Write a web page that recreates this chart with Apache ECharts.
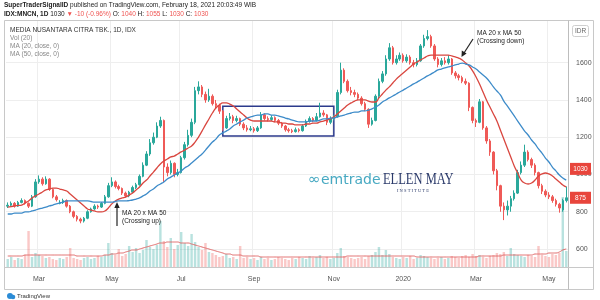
<!DOCTYPE html>
<html><head><meta charset="utf-8">
<script src="https://cdn.jsdelivr.net/npm/echarts@6/dist/echarts.min.js"></script>
<style>html,body{margin:0;padding:0;background:#fff}#c{width:600px;height:300px}</style>
</head><body><div id="c"></div>
<script>
// ---- data (each slot ~ 2 trading days, Feb 2019 - May 2020) ----
const openP = [830,835,845,830,850,860,845,830,880,960,
975,950,975,920,880,845,850,860,830,800,
775,760,750,765,800,815,830,825,845,880,
940,960,935,925,900,885,905,930,945,990,
1050,1110,1170,1200,1260,1290,1040,1010,1060,1000,
1010,1090,1160,1210,1280,1450,1470,1430,1400,1420,
1380,1370,1340,1250,1300,1310,1290,1300,1270,1250,
1240,1245,1235,1250,1320,1300,1295,1305,1290,1275,
1260,1240,1235,1230,1240,1235,1260,1285,1300,1290,
1310,1330,1320,1280,1300,1310,1440,1560,1500,1450,
1440,1430,1410,1380,1350,1270,1290,1420,1500,1540,
1620,1680,1600,1620,1640,1610,1630,1600,1590,1610,
1690,1730,1740,1690,1620,1590,1610,1600,1620,1545,
1530,1520,1500,1490,1360,1290,1280,1390,1250,1180,
1120,1020,940,830,810,830,870,900,1010,1050,
1120,1080,1050,1010,940,910,890,880,860,840,
810,860];
const closeP = [835,845,830,850,860,845,830,880,960,975,
950,975,920,880,865,850,860,830,800,775,
760,750,765,800,815,830,825,845,880,940,
960,935,925,900,885,905,930,945,990,1050,
1110,1170,1200,1260,1290,1040,1010,1060,1000,1010,
1090,1160,1210,1280,1450,1470,1430,1400,1420,1380,
1370,1340,1250,1300,1310,1290,1300,1270,1250,1240,
1245,1235,1250,1320,1300,1295,1305,1290,1275,1260,
1240,1235,1230,1240,1235,1260,1285,1300,1290,1310,
1330,1320,1280,1300,1310,1440,1560,1500,1450,1440,
1430,1410,1380,1350,1270,1290,1420,1500,1540,1620,
1680,1600,1620,1640,1610,1630,1600,1590,1610,1690,
1730,1740,1690,1620,1590,1610,1600,1620,1545,1530,
1520,1500,1490,1360,1290,1280,1390,1250,1180,1120,
1020,940,830,810,830,870,900,1010,1050,1120,
1080,1050,1010,940,910,890,880,860,840,820,
860,875];
const highP = [850,855,852,858,872,866,850,890,975,995,
985,990,980,925,890,862,870,866,836,806,
782,768,772,808,822,840,838,852,890,955,
985,968,945,930,908,912,940,955,1000,1065,
1125,1190,1225,1280,1310,1295,1060,1075,1065,1030,
1100,1175,1240,1300,1470,1500,1480,1445,1460,1430,
1400,1380,1345,1315,1330,1320,1315,1305,1280,1265,
1260,1255,1260,1335,1328,1312,1318,1312,1298,1282,
1266,1250,1245,1252,1248,1270,1295,1312,1308,1330,
1385,1345,1325,1312,1320,1455,1600,1570,1510,1470,
1455,1440,1420,1390,1355,1305,1430,1515,1555,1640,
1705,1690,1640,1655,1650,1645,1640,1615,1625,1700,
1750,1775,1750,1700,1630,1625,1630,1640,1625,1555,
1540,1530,1515,1495,1365,1300,1405,1395,1260,1190,
1125,1030,945,850,860,885,915,1025,1070,1160,
1130,1090,1060,1015,950,920,905,890,870,848,
870,935];
const lowP = [820,828,822,826,845,838,820,825,875,950,
940,945,912,872,855,840,842,822,792,765,
748,738,742,760,795,810,815,820,840,875,
932,925,915,890,875,878,900,922,940,985,
1045,1100,1160,1195,1250,960,990,1000,985,990,
1005,1080,1150,1200,1270,1430,1415,1385,1390,1370,
1355,1325,1235,1245,1290,1275,1280,1260,1238,1230,
1232,1225,1228,1245,1290,1285,1288,1280,1265,1250,
1230,1225,1222,1225,1226,1230,1255,1278,1280,1285,
1305,1310,1265,1270,1290,1305,1430,1490,1440,1425,
1415,1400,1370,1340,1250,1262,1285,1410,1490,1530,
1610,1590,1590,1610,1600,1600,1590,1575,1580,1605,
1680,1720,1680,1610,1575,1580,1590,1590,1535,1515,
1505,1490,1480,1340,1275,1255,1275,1240,1165,1100,
1000,915,800,755,780,800,860,895,1000,1040,
1070,1035,995,925,895,878,868,848,828,795,
800,850];
const ma20 = [825,828,831,834,836,847,858,874,885,895,
906,917,922,927,927,922,917,911,895,879,
863,847,831,815,809,804,799,799,804,820,
842,858,868,874,879,890,901,917,933,954,
970,992,1013,1035,1056,1072,1083,1094,1099,1110,
1121,1131,1142,1153,1174,1201,1233,1266,1298,1330,
1357,1373,1384,1384,1378,1368,1352,1335,1319,1303,
1292,1287,1287,1287,1287,1287,1287,1282,1282,1276,
1276,1271,1271,1266,1266,1266,1271,1271,1276,1276,
1282,1287,1292,1298,1309,1325,1341,1357,1373,1384,
1394,1400,1400,1400,1394,1389,1389,1411,1432,1453,
1470,1491,1512,1529,1545,1561,1577,1593,1604,1615,
1625,1636,1641,1641,1641,1641,1641,1641,1636,1631,
1625,1615,1598,1582,1556,1523,1486,1443,1400,1362,
1325,1287,1239,1190,1142,1094,1046,1008,970,954,
949,954,970,992,1003,1008,1003,992,976,960,
944,933];
const ma50 = [788,788,793,793,793,799,799,804,809,815,
820,825,831,836,842,847,852,858,858,858,
858,858,858,858,855,852,852,852,852,852,
852,855,858,858,858,860,863,868,874,885,
895,911,922,938,949,960,976,986,997,1008,
1019,1035,1046,1062,1078,1094,1110,1131,1153,1174,
1190,1212,1223,1233,1244,1260,1271,1282,1292,1303,
1309,1314,1319,1319,1325,1325,1319,1319,1314,1309,
1303,1298,1292,1287,1282,1282,1282,1287,1287,1287,
1292,1298,1298,1303,1303,1309,1314,1319,1325,1330,
1335,1335,1341,1341,1346,1352,1362,1373,1389,1400,
1411,1421,1432,1443,1453,1464,1475,1486,1496,1507,
1518,1529,1539,1550,1561,1566,1572,1577,1582,1588,
1593,1598,1593,1588,1577,1566,1550,1534,1518,1496,
1470,1448,1427,1394,1368,1341,1314,1287,1260,1233,
1212,1185,1164,1137,1115,1088,1067,1040,1019,997,
981,970];
const volume = [8,10,7,9,8,12,36,10,14,12,
11,9,10,8,7,9,8,10,19,9,
8,7,9,10,8,9,11,10,12,24,
14,12,18,11,13,21,15,19,14,17,
27,20,18,22,46,26,20,29,18,22,
35,24,21,33,25,20,17,24,15,14,
12,10,11,13,9,10,8,21,9,10,
8,9,7,10,8,9,7,8,10,9,
8,7,9,8,10,9,8,11,9,10,
12,9,10,8,9,14,19,11,10,9,
8,9,10,8,11,12,15,20,12,17,
13,10,9,8,10,9,11,8,9,12,
11,10,9,8,9,10,8,9,11,10,
9,11,12,10,13,11,12,10,9,11,
12,14,13,15,11,19,13,12,11,10,
12,11,10,21,12,11,10,13,12,14,
70,16];
const volMA = [11,11,11,11,11,12,12,12,12,12,
12,12,12,12,12,12,12,12,12,12,
11,11,11,11,11,11,11,11,12,12,
13,13,14,14,15,16,17,17,18,19,
20,21,22,23,24,24,25,25,25,25,
24,24,24,23,22,21,20,19,18,17,
16,15,14,13,13,12,12,12,11,11,
11,11,11,10,10,10,10,10,10,10,
10,10,10,10,10,10,10,10,10,10,
10,10,10,10,10,10,10,10,11,11,
11,11,11,11,11,11,11,11,11,11,
11,11,11,11,11,11,11,11,10,10,
10,10,10,10,10,10,10,10,10,10,
10,10,10,10,10,10,11,11,11,11,
11,11,11,12,12,12,12,12,12,12,
12,12,13,13,13,13,14,14,14,15,
17,18];
const tickSlots = [9,30,50,71,94,114,135,156];
const tickLabels = ['Mar','May','Jul','Sep','Nov','2020','Mar','May'];
const boxFrom = '62', boxTo = '94', boxHigh = 1366, boxLow = 1207;
const lastLabels = [1030, 875];

const slots = openP.map((_, i) => String(i));
const FONT = 'Liberation Sans, Arial, sans-serif';
const UP = '#2aa89b', DOWN = '#ef5a57';

const chart = echarts.init(document.getElementById('c'), null, {renderer: 'canvas'});
const isTick = (idx) => tickSlots.indexOf(idx) >= 0;

chart.setOption({
  animation: false,
  backgroundColor: '#ffffff',
  grid: [
    {left: 6, right: 32, top: 25.44, bottom: 13.74},
    {left: 6, right: 32, top: 21, bottom: 33}
  ],
  xAxis: [
    {type: 'category', gridIndex: 0, data: slots, boundaryGap: true,
     axisLine: {show: false}, axisTick: {show: false}, axisLabel: {show: false}, splitLine: {show: false}},
    {type: 'category', gridIndex: 1, data: slots, boundaryGap: true,
     axisLine: {show: false}, axisTick: {show: false},
     axisLabel: {interval: (idx) => isTick(idx), formatter: (v, idx) => { const k = tickSlots.indexOf(idx); return k >= 0 ? tickLabels[k] : ''; },
                 color: '#555', fontSize: 7, fontFamily: FONT, margin: 9},
     splitLine: {show: true, interval: (idx) => isTick(idx), lineStyle: {color: '#eeeeee', width: 1}}}
  ],
  yAxis: [
    {type: 'value', gridIndex: 0, position: 'right', min: 400, max: 1800, interval: 200,
     axisLine: {show: false}, axisTick: {show: false},
     axisLabel: {color: '#555', fontSize: 7, fontFamily: FONT, margin: 8, showMinLabel: false, showMaxLabel: false,
                 formatter: (v) => String(v)},
     splitLine: {show: true, showMinLine: false, showMaxLine: false, lineStyle: {color: '#eeeeee', width: 1}}},
    {type: 'value', gridIndex: 1, min: 0, max: 246, show: false, splitLine: {show: false}}
  ],
  series: [
    {name: 'Vol', type: 'bar', xAxisIndex: 1, yAxisIndex: 1, z: 1, barWidth: '70%',
     data: volume.map((v, i) => ({value: v, itemStyle: {color: closeP[i] >= openP[i] ? 'rgba(38,166,154,0.32)' : 'rgba(239,83,80,0.32)'}}))},
    {name: 'VolMA', type: 'line', xAxisIndex: 1, yAxisIndex: 1, z: 2, data: volMA, showSymbol: false, smooth: true,
     lineStyle: {color: '#e06a6a', width: 1}},
    {name: 'MNCN', type: 'candlestick', xAxisIndex: 0, yAxisIndex: 0, z: 3, barWidth: 2,
     data: openP.map((o, i) => [o, closeP[i], lowP[i], highP[i]]),
     itemStyle: {color: UP, color0: DOWN, borderColor: UP, borderColor0: DOWN, borderWidth: 1},
     markArea: {silent: true, itemStyle: {color: 'rgba(0,0,0,0)', borderColor: '#2c3a8c', borderWidth: 1.5},
                data: [[{coord: [boxFrom, boxHigh]}, {coord: [boxTo, boxLow]}]]}},
    {name: 'MA20', type: 'line', xAxisIndex: 0, yAxisIndex: 0, z: 4, data: ma20, showSymbol: false, smooth: true,
     lineStyle: {color: '#d9463f', width: 1.3}},
    {name: 'MA50', type: 'line', xAxisIndex: 0, yAxisIndex: 0, z: 4, data: ma50, showSymbol: false, smooth: true,
     lineStyle: {color: '#3d8bc9', width: 1.3}}
  ]
});

const yOf = (v) => chart.convertToPixel({yAxisIndex: 0}, v);
const txt = (x, y, text, extra) => Object.assign({type: 'text', x: x, y: y, z: 50,
  style: Object.assign({text: text, font: '6.5px ' + FONT, fill: '#222', textVerticalAlign: 'middle'}, (extra || {}))});

const g = [];
// frame
g.push({type: 'rect', z: 40, shape: {x: 4.5, y: 20.5, width: 589, height: 269}, style: {fill: 'none', stroke: '#c8c8c8', lineWidth: 1}});
g.push({type: 'line', z: 40, shape: {x1: 568.5, y1: 20.5, x2: 568.5, y2: 289.5}, style: {stroke: '#bdbdbd', lineWidth: 1}});
g.push({type: 'line', z: 40, shape: {x1: 4.5, y1: 267.5, x2: 593.5, y2: 267.5}, style: {stroke: '#c8c8c8', lineWidth: 1}});
// header
g.push(txt(4, 5, '{b|SuperTraderSignalID} published on TradingView.com, February 18, 2021 20:03:49 WIB',
  {rich: {b: {fontWeight: 'bold', fontSize: 6.5, fontFamily: FONT, fill: '#222'}}, fontSize: 6.5, fontFamily: FONT}));
g.push(txt(4, 14, '{b|IDX:MNCN, 1D} 1030 {r|\u25BC -10 (-0.96%)} O: {r|1040} H: {r|1055} L: {r|1030} C: {r|1030}',
  {rich: {b: {fontWeight: 'bold', fontSize: 6.5, fontFamily: FONT, fill: '#222'}, r: {fontSize: 6.5, fontFamily: FONT, fill: '#ef5350'}}, fontSize: 6.5, fontFamily: FONT}));
// legend
g.push(txt(10, 30, 'MEDIA NUSANTARA CITRA TBK., 1D, IDX', {fill: '#333'}));
g.push(txt(10, 38.5, 'Vol (20)', {fill: '#888'}));
g.push(txt(10, 46.5, 'MA (20, close, 0)', {fill: '#888'}));
g.push(txt(10, 54.5, 'MA (50, close, 0)', {fill: '#888'}));
// IDR box
g.push({type: 'rect', z: 45, shape: {x: 572.5, y: 25.5, width: 16, height: 11, r: 2}, style: {fill: '#fff', stroke: '#cfcfcf', lineWidth: 1}});
g.push(txt(575, 31, 'IDR', {fill: '#666'}));
// price label boxes
lastLabels.forEach((v) => {
  const y = yOf(v);
  g.push({type: 'rect', z: 60, shape: {x: 570, y: y - 6, width: 21, height: 12}, style: {fill: '#e8453c'}});
  g.push(Object.assign(txt(580.5, y, String(v), {fill: '#fff', textAlign: 'center'}), {z: 61}));
});
// crossing up annotation
g.push({type: 'line', z: 50, shape: {x1: 117, y1: 226, x2: 117, y2: 206}, style: {stroke: '#222', lineWidth: 1.2}});
g.push({type: 'polygon', z: 50, shape: {points: [[117, 202], [114.3, 208], [119.7, 208]]}, style: {fill: '#222'}});
g.push(txt(122, 213.5, 'MA 20 x MA 50'));
g.push(txt(122, 221.5, '(Crossing up)'));
// crossing down annotation
g.push({type: 'line', z: 50, shape: {x1: 473, y1: 39, x2: 464, y2: 53}, style: {stroke: '#222', lineWidth: 1.2}});
g.push({type: 'polygon', z: 50, shape: {points: [[461.5, 57], [461.8, 50.5], [466.6, 53.6]]}, style: {fill: '#222'}});
g.push(txt(477, 33.5, 'MA 20 x MA 50'));
g.push(txt(477, 41.5, '(Crossing down)'));
// watermark
g.push(txt(308, 180, '\u221E', {font: '15px DejaVu Sans', fill: '#47a9c2'}));
g.push(txt(321, 180.5, 'emtrade', {font: '14px DejaVu Sans', fill: '#47a9c2'}));
g.push(Object.assign(txt(0, 0, 'ELLEN MAY', {font: '16px Liberation Serif', fill: '#2c3b6b'}), {x: 383, y: 180, scaleX: 0.78, originX: 0, originY: 0}));
g.push(txt(397, 190.5, 'I N S T I T U T E', {font: '4.5px Liberation Serif', fill: '#2c3b6b'}));
// TradingView logo
g.push({type: 'circle', z: 50, shape: {cx: 10, cy: 296, r: 3}, style: {fill: '#2b8cd6'}});
g.push({type: 'circle', z: 50, shape: {cx: 13, cy: 297, r: 2.3}, style: {fill: '#2b8cd6'}});
g.push(txt(17, 296, 'TradingView', {font: '6px ' + FONT, fill: '#333'}));

chart.setOption({graphic: g});
</script>
</body></html>
